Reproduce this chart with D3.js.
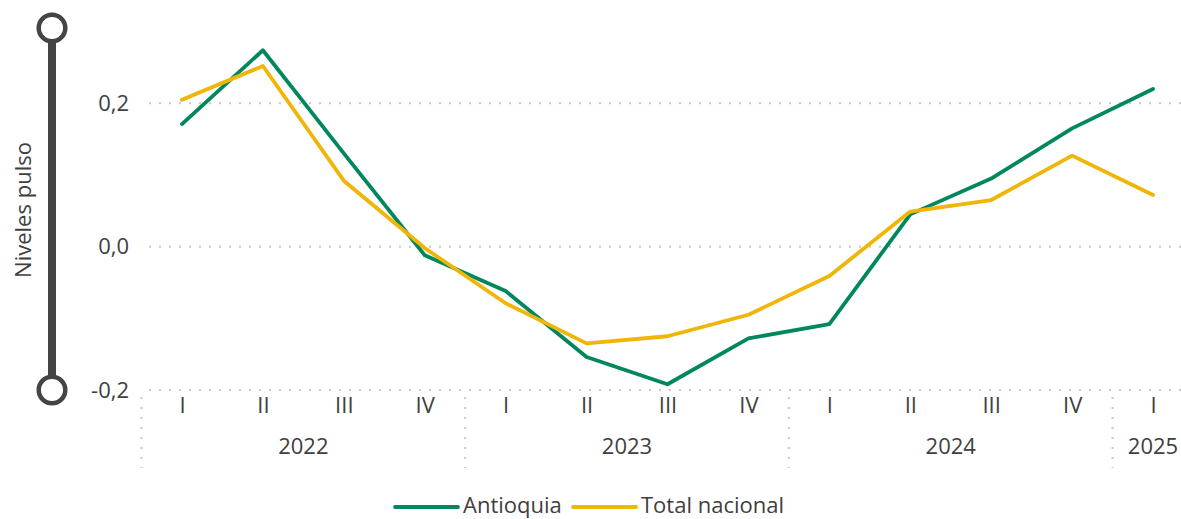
<html lang="es">
<head>
  <meta http-equiv="Content-Type" content="text/html; charset=utf-8" />
  <script src="https://d3js.org/d3.v7.min.js"></script>
  <style>
    body { margin: 0; background: #fff; }
  </style>
</head>
<body>
  <div id="chart"></div>
  <script>
    'use strict';

    // data
    const quarters = ["I", "II", "III", "IV", "I", "II", "III", "IV", "I", "II", "III", "IV", "I"];
    const years = ["2022", "2022", "2022", "2022", "2023", "2023", "2023", "2023",
                   "2024", "2024", "2024", "2024", "2025"];
    const antioquia = [0.171, 0.274, 0.130, -0.012, -0.062, -0.154, -0.192, -0.128,
                       -0.108, 0.045, 0.095, 0.165, 0.220];
    const totalNacional = [0.205, 0.252, 0.092, -0.002, -0.079, -0.135, -0.125, -0.095,
                           -0.041, 0.049, 0.065, 0.127, 0.072];
    const yTicks = [-0.2, 0, 0.2];
    const seriesNames = ["Antioquia", "Total nacional"];

    const width = 1181;
    const height = 519;
    const fontFamily = "'Segoe UI', 'Open Sans', sans-serif";
    const fontSize = "22px";
    const textColor = "#404040";
    const gridColor = "#c8c8c8";
    const colors = ["#01875f", "#f0b505"];

    const keys = quarters.map((q, i) => years[i] + "-" + i);

    const svg = d3.select("#chart")
      .append("svg")
      .attr("width", width)
      .attr("height", height)
      .style("font-family", fontFamily);

    const x = d3.scalePoint()
      .domain(keys)
      .range([141.5, 1193.5])
      .padding(0.5);

    const y = d3.scaleLinear()
      .domain([-0.2, 0.305])
      .range([390, 28]);

    const fmt = d3.formatLocale({ decimal: ",", thousands: ".", grouping: [3], currency: ["$", ""], minus: "-" }).format(".1f");

    // gridlines
    svg.append("g")
      .selectAll("line")
      .data(yTicks)
      .join("line")
      .attr("x1", 149)
      .attr("x2", width)
      .attr("y1", d => y(d))
      .attr("y2", d => y(d))
      .attr("stroke", gridColor)
      .attr("stroke-width", 2)
      .attr("stroke-dasharray", "2,8");

    // y axis labels
    const yAxis = svg.append("g")
      .attr("transform", "translate(129,0)")
      .call(d3.axisLeft(y).tickValues(yTicks).tickFormat(fmt).tickSize(0).tickPadding(0));
    yAxis.select(".domain").remove();
    yAxis.selectAll("text")
      .attr("fill", textColor)
      .style("font-size", fontSize)
      .style("font-family", fontFamily);

    // slider-like axis decoration
    const [yBottom, yTop] = y.range();
    svg.append("line")
      .attr("x1", 52).attr("x2", 52)
      .attr("y1", yTop).attr("y2", yBottom)
      .attr("stroke", "#444")
      .attr("stroke-width", 8);
    svg.selectAll("circle.knob")
      .data([yTop, yBottom])
      .join("circle")
      .attr("class", "knob")
      .attr("cx", 52)
      .attr("cy", d => d)
      .attr("r", 13.3)
      .attr("fill", "#fff")
      .attr("stroke", "#444")
      .attr("stroke-width", 4.5);

    svg.append("text")
      .attr("transform", "translate(31,210) rotate(-90)")
      .attr("text-anchor", "middle")
      .attr("fill", textColor)
      .style("font-size", fontSize)
      .text("Niveles pulso");

    // x axis: quarters
    const xAxis = svg.append("g")
      .attr("transform", "translate(0,397)")
      .call(d3.axisBottom(x).tickFormat((d, i) => quarters[i]).tickSize(0).tickPadding(0));
    xAxis.select(".domain").remove();
    xAxis.selectAll("text")
      .attr("dy", "0.71em")
      .attr("fill", textColor)
      .style("font-size", fontSize)
      .style("font-family", fontFamily);

    // x axis: years
    const yearGroups = d3.groups(keys, k => k.split("-")[0]);
    const step = x.step();
    svg.append("g")
      .selectAll("text")
      .data(yearGroups)
      .join("text")
      .attr("x", d => (x(d[1][0]) + x(d[1][d[1].length - 1])) / 2)
      .attr("y", 454)
      .attr("text-anchor", "middle")
      .attr("fill", textColor)
      .style("font-size", fontSize)
      .text(d => d[0]);

    // year separators
    svg.append("g")
      .selectAll("line")
      .data(yearGroups)
      .join("line")
      .attr("x1", d => x(d[1][0]) - step / 2)
      .attr("x2", d => x(d[1][0]) - step / 2)
      .attr("y1", 397)
      .attr("y2", 468)
      .attr("stroke", gridColor)
      .attr("stroke-width", 2)
      .attr("stroke-dasharray", "2,8");

    // lines
    const line = d3.line()
      .x((d, i) => x(keys[i]))
      .y(d => y(d));

    [antioquia, totalNacional].forEach((vals, s) => {
      svg.append("path")
        .datum(vals)
        .attr("d", line)
        .attr("fill", "none")
        .attr("stroke", colors[s])
        .attr("stroke-width", 3.8)
        .attr("stroke-linejoin", "round")
        .attr("stroke-linecap", "round");
    });

    // legend (nudged up a little so the descenders stay inside the frame)
    const legendX = [395, 573];
    const legend = svg.append("g");
    seriesNames.forEach((name, i) => {
      legend.append("line")
        .attr("x1", legendX[i]).attr("x2", legendX[i] + 63)
        .attr("y1", 507).attr("y2", 507)
        .attr("stroke", colors[i])
        .attr("stroke-width", 3.8)
        .attr("stroke-linecap", "round");
      legend.append("text")
        .attr("x", legendX[i] + 68)
        .attr("y", 513)
        .attr("fill", textColor)
        .style("font-size", fontSize)
        .text(name);
    });
  </script>
</body>
</html>
